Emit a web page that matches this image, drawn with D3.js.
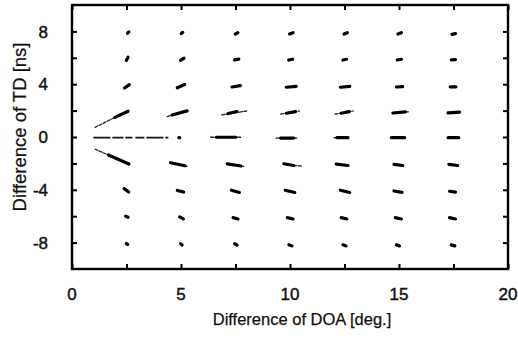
<!DOCTYPE html>
<html>
<head>
<meta charset="utf-8">
<script src="https://cdn.jsdelivr.net/npm/d3@7/dist/d3.min.js"></script>
<style>
  html, body { margin: 0; padding: 0; background: #fff; }
  svg { display: block; }
  text { font-family: "Liberation Sans", Arial, Helvetica, sans-serif; fill: #111; }
</style>
</head>
<body>
<svg id="chart" width="518" height="338"></svg>
<script>
// ---- data (data units: DOA difference [deg.], TD difference [ns]) ----
const doaLabelTicks = [0, 5, 10, 15, 20];
const doaMinorTicks = [0, 2.5, 5, 7.5, 10, 12.5, 15, 17.5, 20];
const tdLabelTicks = [-8, -4, 0, 4, 8];
const tdMinorTicks = [-8, -6, -4, -2, 0, 2, 4, 6, 8];

// dense (thick) part of each estimate: [doa1, td1, doa2, td2]
const rowP8 = [[2.55,7.86,2.61,7.96],[5.01,7.83,5.08,7.93],[7.49,7.80,7.61,7.90],[9.98,7.80,10.14,7.90],[12.48,7.80,12.63,7.90],[14.95,7.80,15.11,7.90],[17.43,7.78,17.59,7.83]];
const rowP6 = [[2.49,5.80,2.57,6.04],[4.98,5.80,5.14,5.98],[7.46,5.84,7.65,5.90],[9.94,5.83,10.12,5.89],[12.43,5.83,12.59,5.89],[14.92,5.83,15.11,5.89],[17.40,5.85,17.59,5.86]];
const rowP4 = [[2.41,3.71,2.63,3.97],[4.83,3.73,5.17,3.97],[7.34,3.79,7.72,3.89],[9.83,3.77,10.28,3.83],[12.31,3.77,12.74,3.83],[14.88,3.79,15.17,3.82],[17.35,3.80,17.61,3.80]];
const rowP2 = [[1.97,1.49,2.57,1.95],[4.59,1.67,5.28,1.98],[7.16,1.78,7.57,1.93],[9.83,1.80,10.25,1.92],[12.35,1.80,12.72,1.92],[14.72,1.82,15.29,1.91],[17.25,1.83,17.78,1.88]];
const row0  = [null,[4.90,-0.05,4.94,-0.05],[6.62,-0.02,7.51,-0.02],[9.57,-0.08,10.17,-0.08],[12.15,-0.05,12.66,-0.05],[14.65,-0.05,15.26,-0.05],[17.25,-0.05,17.74,-0.05]];
const rowM2 = [[1.67,-1.36,2.61,-2.05],[4.52,-1.95,5.18,-2.18],[7.12,-2.03,7.75,-2.20],[9.72,-2.03,10.17,-2.16],[12.12,-2.05,12.66,-2.16],[14.77,-2.07,15.17,-2.16],[17.29,-2.07,17.69,-2.16]];
const rowM4 = [[2.39,-3.91,2.60,-4.17],[4.83,-4.05,5.12,-4.17],[7.31,-4.03,7.68,-4.20],[9.78,-4.03,10.22,-4.20],[12.31,-4.03,12.74,-4.20],[14.77,-4.09,15.14,-4.19],[17.32,-4.11,17.59,-4.17]];
const rowM6 = [[2.46,-6.00,2.57,-6.08],[4.94,-6.05,5.11,-6.20],[7.39,-6.11,7.61,-6.21],[9.88,-6.11,10.14,-6.21],[12.35,-6.11,12.61,-6.21],[14.83,-6.11,15.11,-6.21],[17.32,-6.11,17.59,-6.21]];
const rowM8 = [[2.49,-8.07,2.56,-8.14],[4.98,-8.08,5.05,-8.18],[7.46,-8.09,7.57,-8.18],[9.95,-8.17,10.09,-8.25],[12.43,-8.17,12.57,-8.25],[14.88,-8.17,15.02,-8.25],[17.40,-8.17,17.56,-8.25]];

// sparse (thin) spread of estimates: [doa1, td1, doa2, td2]
const tails = [
  [1.06,0.73,1.97,1.49],[4.37,1.54,4.59,1.67],[6.87,1.67,8.01,1.97],[9.57,1.74,10.43,1.97],[12.06,1.74,12.90,1.97],[15.29,1.91,15.43,1.91],
  [6.36,-0.02,7.75,-0.02],[9.36,-0.08,10.31,-0.08],[12.02,-0.05,12.15,-0.05],
  [1.06,-0.93,1.67,-1.36],[5.18,-2.18,5.28,-2.22],[7.75,-2.20,7.88,-2.22],[10.17,-2.16,10.54,-2.20]
];
const dashedTails = [[0.98,-0.05,4.42,-0.05]];

const xTitle = "Difference of DOA [deg.]";
const yTitle = "Difference of TD [ns]";

// ---- layout ----
const svg = d3.select("#chart");
const L = 72, R = 508, T = 5, B = 269;
const x = d3.scaleLinear().domain([0, 20]).range([L, R]);
const y = d3.scaleLinear().domain([-10, 10]).range([B, T]);

const cores = [rowP8, rowP6, rowP4, rowP2, row0, rowM2, rowM4, rowM6, rowM8].flat().filter(d => d);

const g = svg.append("g");

// thin spreads
g.selectAll("line.tail").data(tails).join("line")
  .attr("class", "tail")
  .attr("x1", d => x(d[0])).attr("y1", d => y(d[1]))
  .attr("x2", d => x(d[2])).attr("y2", d => y(d[3]))
  .attr("stroke", "#222").attr("stroke-width", 1.3).attr("stroke-linecap", "round")
  .attr("stroke-dasharray", "3 1.5");

g.selectAll("line.dtail").data(dashedTails).join("line")
  .attr("class", "dtail")
  .attr("x1", d => x(d[0])).attr("y1", d => y(d[1]))
  .attr("x2", d => x(d[2])).attr("y2", d => y(d[3]))
  .attr("stroke", "#111").attr("stroke-width", 1.8)
  .attr("stroke-dasharray", "17 2 11 2 7 3 9 2");

// dense cores
g.selectAll("line.core").data(cores).join("line")
  .attr("class", "core")
  .attr("x1", d => x(d[0])).attr("y1", d => y(d[1]))
  .attr("x2", d => x(d[2])).attr("y2", d => y(d[3]))
  .attr("stroke", "#000").attr("stroke-width", 3.2).attr("stroke-linecap", "round");

// ---- axes: inward ticks on all four sides ----
const tickLen = 5;
const axisStyle = sel => {
  sel.select(".domain").remove();
  sel.selectAll(".tick line").attr("stroke", "#000").attr("stroke-width", 2);
};
svg.append("g").attr("transform", `translate(0,${B})`)
  .call(d3.axisBottom(x).tickValues(doaMinorTicks).tickSize(-tickLen).tickFormat(""))
  .call(axisStyle);
svg.append("g").attr("transform", `translate(0,${T})`)
  .call(d3.axisTop(x).tickValues(doaMinorTicks).tickSize(-tickLen).tickFormat(""))
  .call(axisStyle);
svg.append("g").attr("transform", `translate(${L},0)`)
  .call(d3.axisLeft(y).tickValues(tdMinorTicks).tickSize(-tickLen).tickFormat(""))
  .call(axisStyle);
svg.append("g").attr("transform", `translate(${R},0)`)
  .call(d3.axisRight(y).tickValues(tdMinorTicks).tickSize(-tickLen).tickFormat(""))
  .call(axisStyle);

// frame
svg.append("rect").attr("x", L).attr("y", T).attr("width", R - L).attr("height", B - T)
  .attr("fill", "none").attr("stroke", "#000").attr("stroke-width", 2.4);

// tick labels
svg.append("g").selectAll("text").data(doaLabelTicks).join("text")
  .attr("x", d => x(d)).attr("y", 300)
  .attr("text-anchor", "middle").attr("font-size", 17)
  .attr("stroke", "#111").attr("stroke-width", 0.45)
  .text(d => d);
svg.append("g").selectAll("text").data(tdLabelTicks).join("text")
  .attr("x", 48).attr("y", d => y(d)).attr("dy", "0.36em")
  .attr("text-anchor", "end").attr("font-size", 17)
  .attr("stroke", "#111").attr("stroke-width", 0.45)
  .text(d => d);

// titles
svg.append("text").attr("x", (L + R) / 2 + 12).attr("y", 325)
  .attr("text-anchor", "middle").attr("font-size", 16.5)
  .attr("stroke", "#111").attr("stroke-width", 0.25).text(xTitle);
svg.append("text").attr("transform", `translate(26,127) rotate(-90)`)
  .attr("text-anchor", "middle").attr("font-size", 18.5)
  .attr("stroke", "#111").attr("stroke-width", 0.25).text(yTitle);
</script>
</body>
</html>
